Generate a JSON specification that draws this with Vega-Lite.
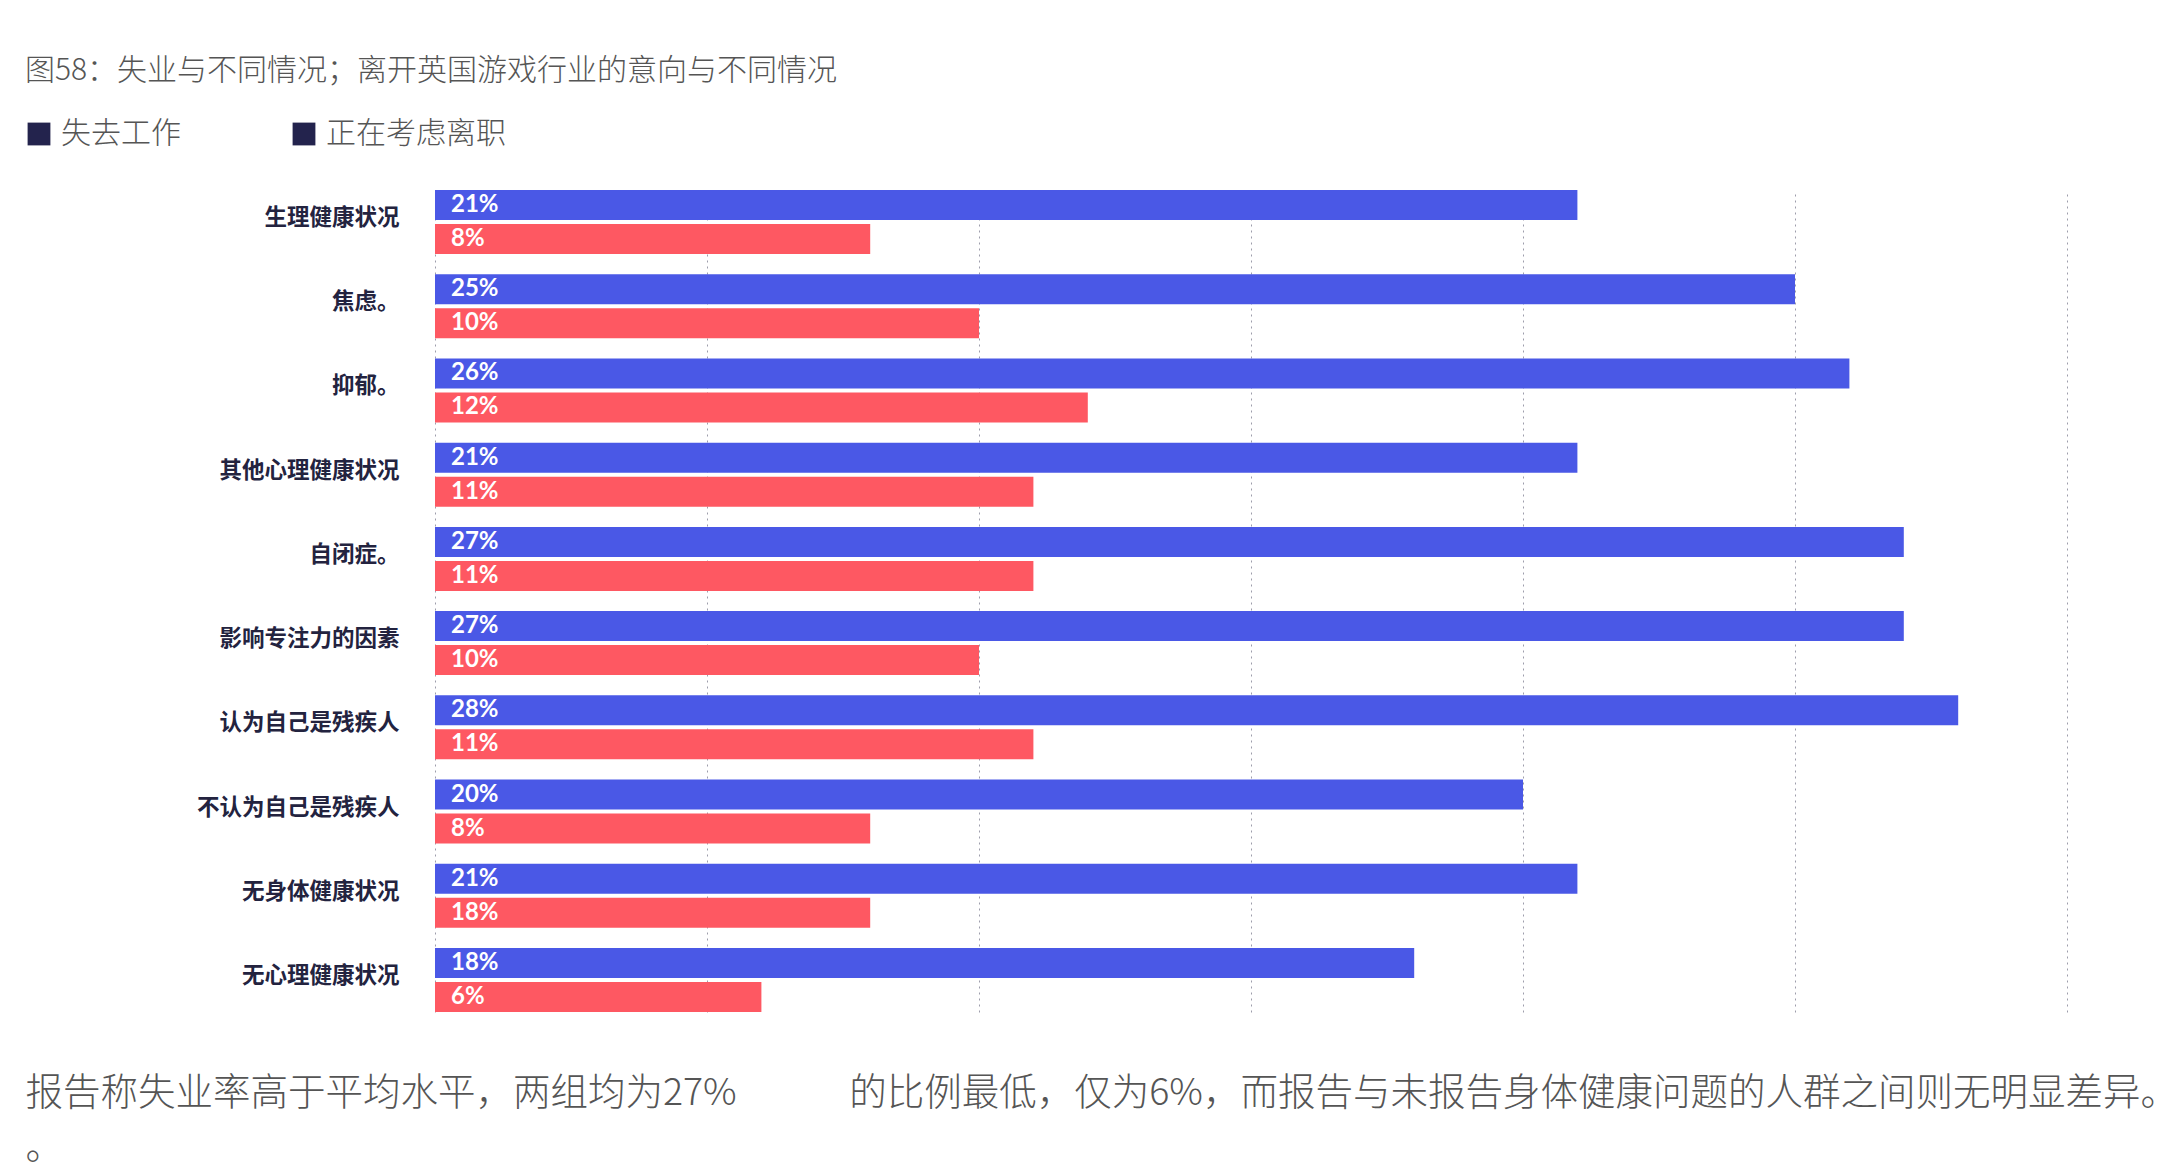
{
  "$schema": "https://vega.github.io/schema/vega-lite/v6.json",
  "autosize": "none",
  "width": 1632,
  "height": 822,
  "padding": {"left": 435, "top": 190, "right": 98, "bottom": 152},
  "background": "#ffffff",
  "config": {"view": {"stroke": null}},
  "title": {
    "text": "图58：失业与不同情况；离开英国游戏行业的意向与不同情况",
    "anchor": "start",
    "frame": "group",
    "dx": -410,
    "fontSize": 30,
    "font": "Noto Sans CJK SC",
    "fontWeight": 300,
    "color": "#555555",
    "offset": 33
  },
  "data": {
    "values": [
      {"cat": "生理健康状况", "series": "失去工作", "value": 21, "label": "21%"},
      {"cat": "生理健康状况", "series": "正在考虑离职", "value": 8, "label": "8%"},
      {"cat": "焦虑。", "series": "失去工作", "value": 25, "label": "25%"},
      {"cat": "焦虑。", "series": "正在考虑离职", "value": 10, "label": "10%"},
      {"cat": "抑郁。", "series": "失去工作", "value": 26, "label": "26%"},
      {"cat": "抑郁。", "series": "正在考虑离职", "value": 12, "label": "12%"},
      {"cat": "其他心理健康状况", "series": "失去工作", "value": 21, "label": "21%"},
      {"cat": "其他心理健康状况", "series": "正在考虑离职", "value": 11, "label": "11%"},
      {"cat": "自闭症。", "series": "失去工作", "value": 27, "label": "27%"},
      {"cat": "自闭症。", "series": "正在考虑离职", "value": 11, "label": "11%"},
      {"cat": "影响专注力的因素", "series": "失去工作", "value": 27, "label": "27%"},
      {"cat": "影响专注力的因素", "series": "正在考虑离职", "value": 10, "label": "10%"},
      {"cat": "认为自己是残疾人", "series": "失去工作", "value": 28, "label": "28%"},
      {"cat": "认为自己是残疾人", "series": "正在考虑离职", "value": 11, "label": "11%"},
      {"cat": "不认为自己是残疾人", "series": "失去工作", "value": 20, "label": "20%"},
      {"cat": "不认为自己是残疾人", "series": "正在考虑离职", "value": 8, "label": "8%"},
      {"cat": "无身体健康状况", "series": "失去工作", "value": 21, "label": "21%"},
      {"cat": "无身体健康状况", "series": "正在考虑离职", "value": 8, "label": "18%"},
      {"cat": "无心理健康状况", "series": "失去工作", "value": 18, "label": "18%"},
      {"cat": "无心理健康状况", "series": "正在考虑离职", "value": 6, "label": "6%"}
    ]
  },
  "encoding": {
    "y": {
      "field": "cat",
      "type": "nominal",
      "sort": null,
      "scale": {"paddingInner": 0.24, "paddingOuter": 0},
      "axis": {
        "title": null,
        "ticks": false,
        "domain": false,
        "labelPadding": 36,
        "labelOffset": -4,
        "labelFontSize": 22.5,
        "labelFont": "Noto Sans CJK SC",
        "labelFontWeight": "bold",
        "labelColor": "#23233f",
        "labelLimit": 400
      }
    },
    "yOffset": {
      "field": "series",
      "type": "nominal",
      "sort": ["失去工作", "正在考虑离职"],
      "scale": {"paddingInner": 0.118, "paddingOuter": 0}
    }
  },
  "layer": [
    {
      "mark": {"type": "bar", "cornerRadius": 0},
      "encoding": {
        "x": {
          "field": "value",
          "type": "quantitative",
          "scale": {"domain": [0, 30], "nice": false},
          "axis": {
            "values": [0, 5, 10, 15, 20, 25, 30],
            "labels": false,
            "ticks": false,
            "domain": false,
            "grid": true,
            "gridDash": [2, 4],
            "gridColor": "#9d9dab",
            "gridWidth": 1,
            "title": ["报告称失业率高于平均水平，两组均为27%　　　的比例最低，仅为6%，而报告与未报告身体健康问题的人群之间则无明显差异。抑郁", "。"],
            "titleAnchor": "start",
            "titleAlign": "left",
            "titleBaseline": "top",
            "titleX": -410,
            "titleY": 62,
            "titleFontSize": 37.5,
            "titleFont": "Noto Sans CJK SC",
            "titleFontWeight": 300,
            "titleColor": "#555555",
            "titleLineHeight": 54,
            "titleLimit": 4000
          }
        },
        "color": {
          "field": "series",
          "type": "nominal",
          "scale": {"range": ["#4a58e6", "#fe5862"]},
          "legend": null
        }
      }
    },
    {
      "mark": {"type": "text", "align": "left", "baseline": "middle", "dx": 16, "fontSize": 24, "font": "Lato", "fontWeight": "bold", "color": "#ffffff"},
      "encoding": {
        "x": {"datum": 0, "type": "quantitative"},
        "text": {"field": "label"}
      }
    },
    {
      "mark": {"type": "point", "shape": "square", "filled": true, "opacity": 0},
      "encoding": {
        "x": {"datum": 0, "type": "quantitative"},
        "fill": {
          "field": "series",
          "type": "nominal",
          "scale": {"domain": ["失去工作", "正在考虑离职"], "range": ["#23234d", "#23234d"]},
          "legend": {
            "title": null,
            "orient": "none",
            "legendX": -411,
            "legendY": -71,
            "direction": "horizontal",
            "symbolType": "square",
            "symbolSize": 520,
            "symbolOpacity": 1,
            "symbolStrokeWidth": 0,
            "labelFontSize": 30,
            "labelFont": "Noto Sans CJK SC",
            "labelFontWeight": 300,
            "labelColor": "#555555",
            "labelOffset": 7,
            "columnPadding": 108,
            "labelLimit": 400
          }
        }
      }
    }
  ]
}
